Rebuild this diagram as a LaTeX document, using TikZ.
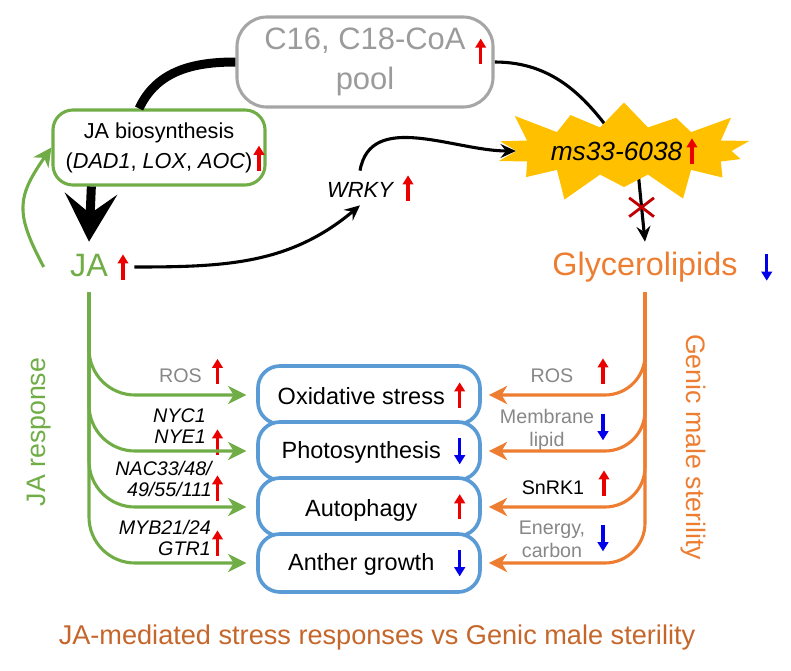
\documentclass[tikz,border=0pt]{standalone}
\usepackage{fontspec}
\setmainfont{Liberation Sans}
\usetikzlibrary{positioning,calc,arrows.meta,shapes.symbols,shapes.misc,backgrounds}

\definecolor{jagreen}{RGB}{112,173,71}
\definecolor{gmsorange}{RGB}{237,125,49}
\definecolor{titleorange}{RGB}{197,102,42}
\definecolor{boxblue}{RGB}{91,155,213}
\definecolor{poolgray}{RGB}{166,166,166}
\definecolor{pooltext}{RGB}{155,155,155}
\definecolor{labelgray}{RGB}{135,135,135}
\definecolor{burstyellow}{RGB}{255,192,0}
\definecolor{blockred}{RGB}{192,0,0}
\definecolor{upred}{RGB}{235,0,0}
\definecolor{downblue}{RGB}{0,0,235}

\newcommand{\upRed}{\tikz[baseline=0pt]\draw[upred,line width=2.3pt,-{Triangle[length=6.5pt,width=7.5pt]}] (0pt,-2pt) -- (0pt,16pt);}
\newcommand{\downBlue}{\tikz[baseline=0pt]\draw[downblue,line width=2.3pt,-{Triangle[length=6.5pt,width=7.5pt]}] (0pt,15pt) -- (0pt,-4pt);}
\newcommand{\stagetext}[2]{\makebox[129pt][c]{#1}\makebox[11pt][c]{#2}}

\tikzset{>=latex,
    blackflow/.style={line width=2.2pt,-{Stealth[length=11pt,width=10pt,inset=4pt]}},
    jaline/.style={draw=jagreen,line width=2.2pt,-{Stealth[length=13pt,width=13pt,inset=4pt]}},
    gmsline/.style={draw=gmsorange,line width=2.2pt,-{Stealth[length=13pt,width=13pt,inset=4pt]}},
    stagebox/.style={draw=boxblue,line width=2.6pt,fill=white,rounded corners=0.55cm,
        minimum width=5.55cm,minimum height=1.45cm,inner sep=0pt,font=\fontsize{16.7}{20}\selectfont},
    genelabel/.style={align=right,inner sep=0pt,font=\fontsize{14}{14.5}\selectfont\itshape},
    cuelabel/.style={align=center,inner sep=0pt,text=labelgray,font=\fontsize{14}{16.3}\selectfont},
    trend/.style={inner sep=0pt}}

\begin{document}
\begin{tikzpicture}[x=0.025cm,y=0.025cm]

    \useasboundingbox (0,0) rectangle (791,-671);

    \def\xJA{89}
    \def\xGly{645}
    \def\xStage{369}
    \def\yLevel{-267}
    \def\yOx{-395}
    \def\yPhoto{-451}
    \def\yAuto{-507}
    \def\yAnther{-563}

    \node
        [draw=poolgray,line width=2.2pt,rounded corners=0.75cm,minimum width=6.4cm,minimum height=2.25cm,
         align=center,text=pooltext,font=\fontsize{22}{24}\selectfont]
        at (365,-62)
        (pool) {C16, C18-CoA\rlap{\hspace{7pt}\raisebox{-8pt}{\upRed}}\\pool};
    \node
        [draw=jagreen,line width=2.2pt,rounded corners=0.5cm,minimum width=5.3cm,minimum height=1.875cm,
         align=center,font=\fontsize{15.4}{16.3}\selectfont]
        at (159,-147.5)
        (bio) {JA biosynthesis\\(\textit{DAD1}, \textit{LOX}, \textit{AOC})\rlap{\hspace{1pt}\upRed}};
    \node
        [text=jagreen,minimum width=2.25cm,minimum height=1.25cm,inner sep=0pt,font=\fontsize{23}{27}\selectfont]
        at (\xJA,\yLevel)
        (ja) {JA\rlap{\hspace{7pt}\upRed}};
    \node
        [inner sep=2pt,font=\fontsize{15.6}{18}\selectfont\itshape]
        at (360,-188)
        (wrky) {WRKY\rlap{\hspace{7pt}\upRed}};
    \node
        [starburst,fill=burstyellow,starburst points=14,starburst point height=0.85cm,
         inner sep=2pt,font=\fontsize{18.7}{20}\selectfont\itshape]
        at (624,-151)
        (burst) {ms33-6038\,\upRed};
    \node
        [text=gmsorange,minimum height=1.25cm,inner sep=0pt,font=\fontsize{23}{27}\selectfont]
        at (\xGly,\yLevel)
        (gly) {Glycerolipids\rlap{\hspace{17pt}\downBlue}};

    % processes in the anther
    \node [stagebox] at (\xStage,\yOx) (ox) {\stagetext{Oxidative stress}{\upRed}};
    \node [stagebox] at (\xStage,\yPhoto) (photo) {\stagetext{Photosynthesis}{\downBlue}};
    \node [stagebox] at (\xStage,\yAuto) (auto) {\stagetext{Autophagy}{\upRed}};
    \node [stagebox] at (\xStage,\yAnther) (anther) {\stagetext{Anther growth}{\downBlue}};

    % JA side
    \node [cuelabel,anchor=east] at (202,-375.5) (rosJA) {ROS};
    \node [genelabel,anchor=east] at (206,-426) (nyc) {NYC1\\NYE1};
    \node [genelabel,anchor=east] at (212,-479) (nac) {NAC33/48/\\49/55/111};
    \node [genelabel,anchor=east] at (211,-538) (myb) {MYB21/24\\GTR1};
    \node [trend] at (217.5,-371.5) (rosJAup) {\upRed};
    \node [trend] at (217.5,-442) (nycup) {\upRed};
    \node [trend] at (217.5,-488) (nacup) {\upRed};
    \node [trend] at (217.5,-543) (mybup) {\upRed};

    % sterility side
    \node [cuelabel] at (552,-375.5) (rosGMS) {ROS};
    \node [cuelabel] at (547,-430) (memb) {Membrane\\lipid};
    \node [cuelabel,text=black] at (553,-488) (snrk) {SnRK1};
    \node [cuelabel] at (552,-539) (energy) {Energy,\\carbon};
    \node [trend] at (603,-371) (rosGMSup) {\upRed};
    \node [trend] at (603,-427) (membdown) {\downBlue};
    \node [trend] at (604,-483) (snrkup) {\upRed};
    \node [trend] at (603,-538) (energydown) {\downBlue};

    \node [rotate=90,text=jagreen,font=\fontsize{19}{22}\selectfont] at (39,-432) (jaresp) {JA response};
    \node [rotate=-90,text=gmsorange,font=\fontsize{19}{22}\selectfont] at (693,-447) (gmsresp) {Genic male sterility};
    \node [text=titleorange,font=\fontsize{19.3}{22}\selectfont] at (377,-637) (title)
        {JA-mediated stress responses vs Genic male sterility};

    \draw[line width=6.4pt] (pool.west) to[out=180,in=65] (bio.117);
    \draw[line width=6.4pt,-{Stealth[length=34pt,width=37pt,inset=14pt]}] (bio.210) -- (ja.north);
    \draw[jaline] (ja.west) to[out=118,in=235,looseness=1.3] (bio.west);
    \draw[blackflow] (ja.east) to[out=0,in=220] (wrky.south);
    \draw[blackflow] (wrky.north) to[out=80,in=180] (burst.west);
    \begin{scope}[on background layer]
        \draw[line width=2.2pt] (pool.east) to[out=0,in=124] (burst.center);
        \draw[blackflow] ([xshift=0.3cm]burst.center) -- (gly.north)
            node[pos=0.62,cross out,draw=blockred,line width=2pt,minimum width=0.55cm,minimum height=0.4cm,inner sep=0pt] (block) {};
    \end{scope}

    \foreach \stage in {ox,photo,auto,anther}
        \draw[jaline,rounded corners=1.15cm,shorten >=7pt] (ja.south) |- (\stage.west);
    \foreach \stage in {ox,photo,auto,anther}
        \draw[gmsline,rounded corners=1cm,shorten >=5pt] (gly.south) |- (\stage.east);

\end{tikzpicture}
\end{document}
